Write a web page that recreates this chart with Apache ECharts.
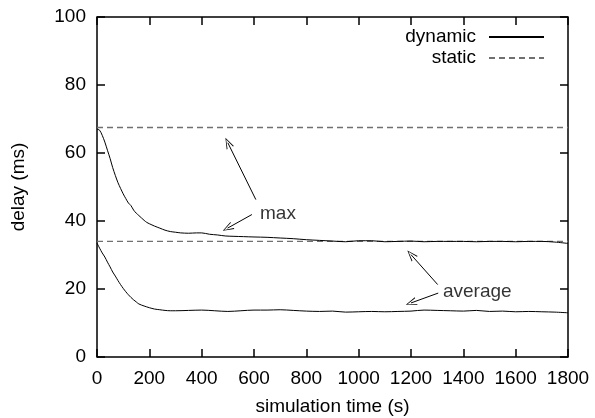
<!DOCTYPE html>
<html>
<head>
<meta charset="utf-8">
<script src="https://cdn.jsdelivr.net/npm/echarts@6/dist/echarts.min.js"></script>
<style>
html,body{margin:0;padding:0;background:#fff;}
#chart{width:595px;height:418px;}
</style>
</head>
<body>
<div id="chart"></div>
<script>
// simulation time (s)
const maxTimes = [0,10,20,30,40,50,60,70,80,90,100,110,120,130,140,150,160,170,180,190,200,220,240,260,280,300,320,350,380,400,430,460,490,520,560,600,650,700,750,800,850,900,950,1000,1050,1100,1150,1200,1250,1300,1350,1400,1450,1500,1550,1600,1650,1700,1750,1800];
const maxDynamic = [67.0,66.7,65.2,63.2,60.8,58.4,55.7,53.4,51.3,49.6,48.0,46.6,45.3,44.5,43.2,42.3,41.6,40.9,40.2,39.6,39.2,38.5,37.9,37.3,36.9,36.7,36.5,36.4,36.5,36.5,36.1,35.9,35.6,35.5,35.4,35.3,35.2,35.0,34.8,34.5,34.3,34.1,33.9,34.2,34.2,33.9,34.0,34.1,33.9,34.0,34.0,34.0,33.9,34.0,34.0,33.9,34.0,34.0,33.8,33.4];
const avgTimes = [0,10,20,30,40,50,60,70,80,90,100,110,120,130,140,150,160,180,200,220,240,260,280,300,350,400,450,500,550,600,650,700,750,800,850,900,950,1000,1050,1100,1150,1200,1250,1300,1350,1400,1450,1500,1550,1600,1650,1700,1750,1800];
const avgDynamic = [33.5,32.0,30.6,29.4,27.9,26.5,25.0,23.8,22.5,21.3,20.2,19.2,18.3,17.5,16.8,16.2,15.6,15.0,14.5,14.1,13.9,13.7,13.6,13.6,13.7,13.8,13.6,13.4,13.6,13.8,13.8,13.9,13.7,13.5,13.4,13.5,13.2,13.3,13.4,13.3,13.4,13.5,13.8,13.7,13.6,13.5,13.7,13.4,13.5,13.3,13.4,13.3,13.2,13.0];
const staticTimes = [0,1800];
const staticMax = [67.5,67.5];
const staticAvg = [34.0,34.0];
const xTicks = [0,200,400,600,800,1000,1200,1400,1600,1800];
const yTicks = [0,20,40,60,80,100];
// annotation labels and arrows (data coordinates)
const annoLabels = [{text:'max', x:623, y:42.0},{text:'average', x:1322, y:19.2}];
const annoArrows = [
  [[607,46.3],[500,63.0]],
  [[592,41.9],[499,37.9]],
  [[1302,21.3],[1200,30.1]],
  [[1304,18.8],[1200,15.9]]
];

const zip = (a,b)=>a.map((v,i)=>[v,b[i]]);
const FONT = "'Liberation Sans', Arial, Helvetica, sans-serif";
const FS = 19;
const W = 595, H = 418;
const G = {left:97, right:27, top:17, bottom:61};
const TICK = 8; // tick length in px
const xMin = xTicks[0], xMax = xTicks[xTicks.length-1];
const yMin = yTicks[0], yMax = yTicks[yTicks.length-1];
// tick length expressed in axis units (derived from plot size)
const dx = TICK * (xMax - xMin) / (W - G.left - G.right);
const dy = TICK * (yMax - yMin) / (H - G.top - G.bottom);
const tickSegs = [];
xTicks.forEach(v=>{
  tickSegs.push([{coord:[v, yMin]},{coord:[v, yMin + dy]}]);
  tickSegs.push([{coord:[v, yMax]},{coord:[v, yMax - dy]}]);
});
yTicks.forEach(v=>{
  tickSegs.push([{coord:[xMin, v]},{coord:[xMin + dx, v]}]);
  tickSegs.push([{coord:[xMax, v]},{coord:[xMax - dx, v]}]);
});

const chart = echarts.init(document.getElementById('chart'), null, {renderer:'canvas'});
const chevron = 'path://M50,0 L100,100 L88,100 L50,16 L12,100 L0,100 Z';

chart.setOption({
  animation:false,
  backgroundColor:'#fff',
  textStyle:{fontFamily:FONT},
  grid:Object.assign({containLabel:false, outerBoundsMode:'none', show:true, borderColor:'#000', borderWidth:1.5,
    backgroundColor:'rgba(0,0,0,0)'}, G),
  legend:{
    data:['dynamic','static'],
    orient:'vertical', right:50, top:27, align:'right', padding:0,
    itemWidth:55, itemHeight:14, itemGap:1,
    itemStyle:{color:'rgba(0,0,0,0)', borderWidth:0, opacity:0},
    textStyle:{fontSize:FS, lineHeight:20, color:'#000', fontFamily:FONT, padding:[0,8,0,0]},
    selectedMode:false
  },
  xAxis:{type:'value', min:xMin, max:xMax, interval:200, position:'bottom',
    name:'simulation time (s)', nameLocation:'middle', nameGap:40,
    nameTextStyle:{fontSize:FS, color:'#000', fontFamily:FONT},
    axisLine:{show:false}, axisTick:{show:false}, splitLine:{show:false},
    axisLabel:{fontSize:FS, color:'#000', margin:12, fontFamily:FONT, formatter:v=>String(v)}},
  yAxis:{type:'value', min:yMin, max:yMax, interval:20, position:'left',
    name:'delay (ms)', nameLocation:'middle', nameGap:69, nameRotate:90,
    nameTextStyle:{fontSize:FS, color:'#000', fontFamily:FONT},
    axisLine:{show:false}, axisTick:{show:false}, splitLine:{show:false},
    axisLabel:{fontSize:FS, color:'#000', margin:11, fontFamily:FONT}},
  series:[
    {name:'static', type:'line', data:zip(staticTimes,staticMax), symbol:'none', silent:true,
      lineStyle:{color:'#707070', width:1.3, type:[6,4]}, itemStyle:{color:'#707070'},
      markLine:{
        silent:true, symbol:['none','none'], label:{show:false},
        lineStyle:{color:'#000', width:1.5, type:'solid'},
        emphasis:{disabled:true},
        data: tickSegs
      }},
    {name:'static', type:'line', data:zip(staticTimes,staticAvg), symbol:'none', silent:true,
      lineStyle:{color:'#707070', width:1.3, type:[6,4]}, itemStyle:{color:'#707070'}},
    {name:'dynamic', type:'line', data:zip(maxTimes,maxDynamic), symbol:'none', smooth:0.3, silent:true,
      lineStyle:{color:'#000', width:1}, itemStyle:{color:'#000'}},
    {name:'dynamic', type:'line', data:zip(avgTimes,avgDynamic), symbol:'none', smooth:0.3, silent:true,
      lineStyle:{color:'#000', width:1}, itemStyle:{color:'#000'}},
    {name:'annotations', type:'scatter', symbolSize:0, silent:true,
      data: annoLabels.map(a=>({value:[a.x,a.y], label:{formatter:a.text}})),
      label:{show:true, position:'right', distance:0, fontSize:FS, color:'#000', fontFamily:FONT},
      markLine:{
        silent:true, symbol:['none',chevron], symbolSize:[8,11],
        label:{show:false},
        lineStyle:{color:'#000', width:1, type:'solid'},
        itemStyle:{color:'#000'},
        emphasis:{disabled:true},
        data: annoArrows.map(a=>[{coord:a[0]},{coord:a[1]}])
      }}
  ]
});
</script>
</body>
</html>
